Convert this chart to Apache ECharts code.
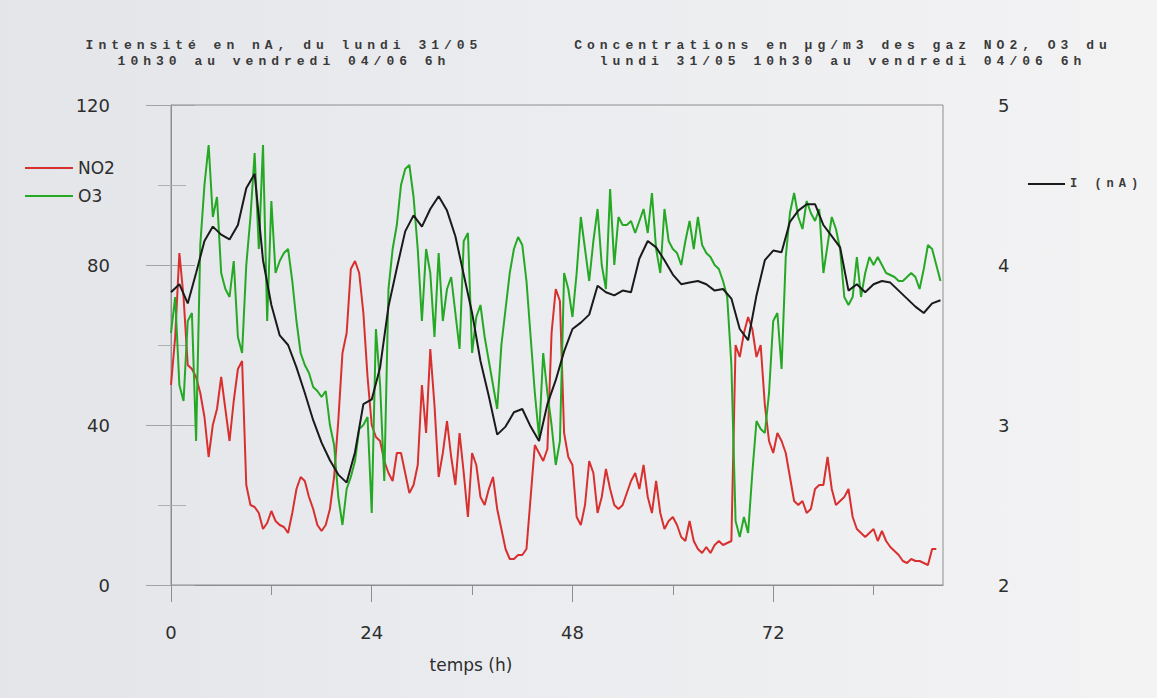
<!DOCTYPE html>
<html>
<head>
<meta charset="utf-8">
<title>NO2, O3 et intensité</title>
<script src="https://cdn.jsdelivr.net/npm/echarts@6/dist/echarts.min.js"></script>
<style>
  html, body { margin: 0; padding: 0; }
  #chart {
    width: 1157px; height: 698px;
    background: linear-gradient(to right, #e4e5e9 0%, #ebecef 45%, #f3f3f4 100%);
  }
  /* typewriter-style headings are widely spaced */
  #chart text[style*="Liberation Mono"] { letter-spacing: 5px; }
</style>
</head>
<body>
<div id="chart"></div>
<script>
// Time grid (hours since lundi 31/05 10h30)
const GAS_STEP = 0.5;   // NO2 / O3 sampled every half hour
const I_STEP = 1;       // current sampled every hour
const X_MAX = 92.3;

// NO2 concentration (µg/m3), from t = 0 h, every 0.5 h
const no2 = [
  50, 62, 83, 72, 55, 54, 52, 48, 42, 32,
  40, 44, 52, 44, 36, 46, 54, 56, 25, 20,
  19.5, 18, 14, 15.5, 18.5, 16, 15, 14.5, 13, 18,
  24, 27, 26, 22, 19, 15, 13.5, 15, 19, 27,
  41, 58, 63, 79, 81, 78, 68, 52, 40, 37,
  36, 31, 28, 26, 33, 33, 28, 23, 25, 30,
  50, 38, 59, 45, 27, 33, 41, 32, 25, 38,
  28, 17, 33, 30, 22, 20, 24, 27, 19, 14,
  9, 6.5, 6.5, 7.5, 7.5, 9, 22, 35, 33, 31,
  34, 63, 74, 71, 38, 32, 30, 17, 15, 20,
  31, 28, 18, 22, 29, 24, 20, 19, 20, 23,
  26, 28, 24, 30, 22, 18, 26, 18, 14, 16,
  17, 15, 12, 11, 16, 11, 9, 8, 9.5, 8,
  10, 11, 10, 10.5, 11, 60, 57, 63, 67, 64,
  57, 60, 45, 36, 33, 38, 36, 33, 27, 21,
  20, 21, 18, 19, 24, 25, 25, 32, 24, 20,
  21, 22, 24, 17, 14, 13, 12, 13, 14, 11,
  13.5, 11, 9.5, 8.5, 7.5, 6, 5.5, 6.5, 6, 6,
  5.5, 5, 9, 9
];

// O3 concentration (µg/m3), from t = 0 h, every 0.5 h
const o3 = [
  63, 72, 50, 46, 66, 68, 36, 85, 100, 110,
  92, 97, 78, 74, 72, 81, 62, 58, 80, 92,
  108, 84, 110, 66, 96, 78, 81, 83, 84, 76,
  66, 58, 55, 53, 49.5, 48.5, 47, 48.5, 40, 35,
  22, 15, 24, 27, 31, 39, 40, 42, 18, 64,
  50, 26, 74, 84, 90, 100, 104, 105, 97, 84,
  66, 84, 78, 62, 83, 66, 74, 77, 68, 59,
  86, 88, 58, 67, 70, 62, 56, 50, 44, 60,
  69, 78, 84, 87, 85, 76, 62, 48, 37, 58,
  48, 40, 30, 36, 78, 74, 67, 78, 92, 84,
  76, 86, 94, 80, 74, 99, 80, 92, 90, 90,
  91, 88, 91, 94, 88, 98, 84, 78, 94, 86,
  84, 83, 80, 86, 91, 84, 92, 85, 83, 82,
  80, 79, 76, 72, 55, 16, 12, 17, 13, 28,
  41, 39, 38, 48, 66, 68, 54, 82, 93, 98,
  92, 89, 96, 93, 91, 94, 78, 85, 92, 89,
  84, 72, 70, 72, 82, 72, 78, 82, 80, 82,
  80, 78, 77.5, 77, 76, 76, 77, 78, 77, 74,
  79, 85, 84, 80, 76
];

// Sensor current I (nA), from t = 0 h, every hour
const current = [
  3.83, 3.88, 3.76, 3.95, 4.15, 4.24, 4.19, 4.16, 4.25, 4.48,
  4.57, 4.03, 3.75, 3.56, 3.50, 3.36, 3.20, 3.03, 2.89, 2.78,
  2.69, 2.64, 2.83, 3.13, 3.16, 3.36, 3.74, 3.98, 4.21, 4.31,
  4.24, 4.35, 4.43, 4.34, 4.18, 3.94, 3.70, 3.40, 3.18, 2.94,
  2.99, 3.08, 3.10, 2.99, 2.90, 3.13, 3.28, 3.46, 3.60, 3.64,
  3.69, 3.87, 3.83, 3.81, 3.84, 3.83, 4.04, 4.15, 4.11, 4.03,
  3.94, 3.88, 3.89, 3.90, 3.88, 3.84, 3.85, 3.79, 3.60, 3.53,
  3.81, 4.03, 4.09, 4.08, 4.27, 4.34, 4.38, 4.38, 4.25, 4.18,
  4.11, 3.84, 3.88, 3.83, 3.88, 3.90, 3.89, 3.84, 3.79, 3.74,
  3.70, 3.76, 3.78
];

// Axis ticks
const xLabelTicks = [0, 24, 48, 72];
const xMinorTicks = [12, 36, 60, 84];

const titleLeft = 'Intensité en nA, du lundi 31/05\n10h30 au vendredi 04/06 6h';
const titleRight = 'Concentrations en µg/m3 des gaz NO2, O3 du\nlundi 31/05 10h30 au vendredi 04/06 6h';
const xName = 'temps (h)';

const toPairs = (arr, step) => arr.map((v, i) => [i * step, v]);

const AXIS_COLOR = '#8e8e8e';
const TEXT_COLOR = '#2e2e2e';
const SANS = 'DejaVu Sans';
const MONO = 'Liberation Mono';

const chart = echarts.init(document.getElementById('chart'), null, { renderer: 'svg' });

chart.setOption({
  animation: false,
  backgroundColor: 'transparent',
  textStyle: { fontFamily: SANS },
  grid: {
    left: 171, right: 214, top: 105, bottom: 113,
    show: true, borderColor: AXIS_COLOR, borderWidth: 1,
    backgroundColor: 'transparent'
  },
  legend: [
    {
      data: ['NO2', 'O3'],
      orient: 'vertical',
      left: 25, top: 159,
      padding: 0,
      icon: 'rect',
      itemWidth: 48, itemHeight: 2, itemGap: 10,
      textStyle: { fontFamily: SANS, fontSize: 17, color: TEXT_COLOR, lineHeight: 18 }
    },
    {
      data: ['I (nA)'],
      left: 1028, top: 178,
      padding: 0,
      icon: 'rect',
      itemWidth: 37, itemHeight: 2,
      textStyle: { fontFamily: MONO, fontSize: 12, fontWeight: 'bold', color: '#3a3a3a' }
    }
  ],
  xAxis: [
    {
      type: 'value', min: 0, max: X_MAX, position: 'bottom',
      axisLine: { show: true, lineStyle: { color: AXIS_COLOR, width: 1 } },
      axisTick: { show: true, length: 17, customValues: xLabelTicks, lineStyle: { color: AXIS_COLOR } },
      axisLabel: {
        customValues: xLabelTicks, margin: 38,
        fontSize: 18, color: TEXT_COLOR, fontFamily: SANS
      },
      splitLine: { show: false }
    },
    {
      type: 'value', min: 0, max: X_MAX, position: 'bottom',
      axisLine: { show: false },
      axisTick: { show: true, length: 10, customValues: xMinorTicks, lineStyle: { color: AXIS_COLOR } },
      axisLabel: { show: false },
      splitLine: { show: false }
    }
  ],
  yAxis: [
    {
      type: 'value', min: 0, max: 120, interval: 40, position: 'left',
      axisLine: { show: true, lineStyle: { color: AXIS_COLOR, width: 1 } },
      axisTick: { show: true, length: 25, lineStyle: { color: '#a3a3a3' } },
      minorTick: { show: true, splitNumber: 2, length: 13, lineStyle: { color: '#b0b0b0' } },
      axisLabel: { margin: 61, fontSize: 18, color: TEXT_COLOR, fontFamily: SANS },
      splitLine: { show: false }
    },
    {
      type: 'value', min: 2, max: 5, interval: 1, position: 'right',
      axisLine: { show: true, lineStyle: { color: AXIS_COLOR, width: 1 } },
      axisTick: { show: true, length: 24, lineStyle: { color: '#a3a3a3' } },
      minorTick: { show: true, splitNumber: 2, length: 15, lineStyle: { color: '#b0b0b0' } },
      axisLabel: { margin: 55, fontSize: 18, color: TEXT_COLOR, fontFamily: SANS },
      splitLine: { show: false }
    }
  ],
  series: [
    {
      name: 'NO2', type: 'line', xAxisIndex: 0, yAxisIndex: 0,
      data: toPairs(no2, GAS_STEP),
      symbol: 'none', color: '#d8302f',
      lineStyle: { color: '#d8302f', width: 2 }
    },
    {
      name: 'O3', type: 'line', xAxisIndex: 0, yAxisIndex: 0,
      data: toPairs(o3, GAS_STEP),
      symbol: 'none', color: '#25a925',
      lineStyle: { color: '#25a925', width: 2 }
    },
    {
      name: 'I (nA)', type: 'line', xAxisIndex: 0, yAxisIndex: 1,
      data: toPairs(current, I_STEP),
      symbol: 'none', color: '#1a1a1a',
      lineStyle: { color: '#1a1a1a', width: 2 }
    }
  ],
  graphic: [
    {
      type: 'text', x: 284, y: 37,
      style: {
        text: titleLeft, align: 'center', verticalAlign: 'top',
        font: 'bold 13px "Liberation Mono"', lineHeight: 16, fill: '#3a3a3a'
      }
    },
    {
      type: 'text', x: 843, y: 37,
      style: {
        text: titleRight, align: 'center', verticalAlign: 'top',
        font: 'bold 13px "Liberation Mono"', lineHeight: 16, fill: '#3a3a3a'
      }
    },
    {
      type: 'text', x: 471, y: 665,
      style: {
        text: xName, align: 'center', verticalAlign: 'middle',
        font: '17px "DejaVu Sans"', fill: TEXT_COLOR
      }
    }
  ]
});
</script>
</body>
</html>
